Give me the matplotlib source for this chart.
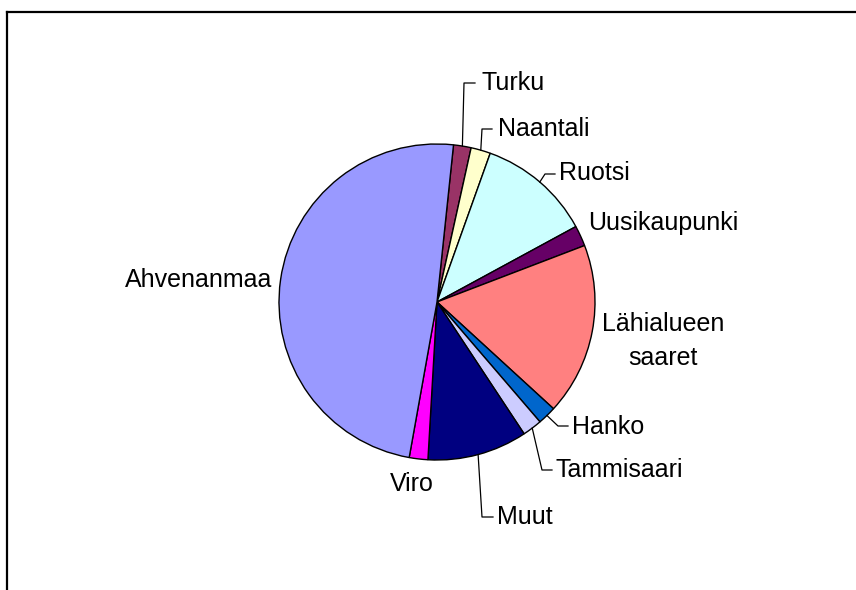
import matplotlib.pyplot as plt
import numpy as np

# share of visitors by origin (%), clockwise from the top
labels = ["Turku", "Naantali", "Ruotsi", "Uusikaupunki", "Lähialueen\nsaaret",
          "Hanko", "Tammisaari", "Muut", "Viro", "Ahvenanmaa"]
values = [1.8, 2.0, 11.6, 2.1, 17.6, 1.9, 2.0, 10.2, 1.9, 48.8]
colors = ["#993366", "#FFFFCC", "#CCFFFF", "#660066", "#FF8080",
          "#0066CC", "#CCCCFF", "#000080", "#FF00FF", "#9999FF"]

W, H = 856, 590
cx, cy, R = 437, 302, 158  # pie centre and radius in pixels

plt.rcParams['font.family'] = ['Liberation Sans', 'DejaVu Sans']

fig = plt.figure(figsize=(W / 100, H / 100), dpi=100)
fig.patch.set_facecolor('white')

# frame (left + top edges visible, rest cropped)
fig.add_artist(plt.Line2D([7 / W, 7 / W], [0, 1 - 11.5 / H], color='black', lw=1.6,
                          transform=fig.transFigure))
fig.add_artist(plt.Line2D([7 / W, 1], [1 - 11.5 / H, 1 - 11.5 / H], color='black', lw=1.6,
                          transform=fig.transFigure))

ax = fig.add_axes([(cx - R) / W, (H - cy - R) / H, 2 * R / W, 2 * R / H])
wedges, _ = ax.pie(values, colors=colors, startangle=84, counterclock=False,
                   radius=1, wedgeprops=dict(edgecolor='black', linewidth=1.0))
ax.set_xlim(-1, 1)
ax.set_ylim(-1, 1)
ax.axis('off')


def to_data(px, py):
    return (px - cx) / R, (cy - py) / R


# label text position (pixels), alignment, leader path (elbow, end) or None
label_pos = [
    ((481, 83), 'left', [(464, 83), (475, 83)]),
    ((498, 129), 'left', [(482, 129), (492, 129)]),
    ((559, 173), 'left', [(545, 174), (555, 174)]),
    ((588, 223), 'left', None),
    ((663, 341), 'center', None),
    ((572, 427), 'left', [(558, 426), (568, 426)]),
    ((556, 470), 'left', [(542, 470), (552, 470)]),
    ((497, 517), 'left', [(482, 517), (493, 517)]),
    ((412, 484), 'center', None),
    ((199, 280), 'center', None),
]

for w, lab, (pos, ha, leader) in zip(wedges, labels, label_pos):
    tx, ty = to_data(*pos)
    ax.text(tx, ty, lab, ha=ha, va='center', fontsize=18, linespacing=1.55,
            clip_on=False)
    if leader:
        mid = np.deg2rad((w.theta1 + w.theta2) / 2)
        xs = [np.cos(mid)] + [to_data(*p)[0] for p in leader]
        ys = [np.sin(mid)] + [to_data(*p)[1] for p in leader]
        ax.plot(xs, ys, color='black', lw=0.9, clip_on=False)

fig.savefig('out.png', dpi=100)
